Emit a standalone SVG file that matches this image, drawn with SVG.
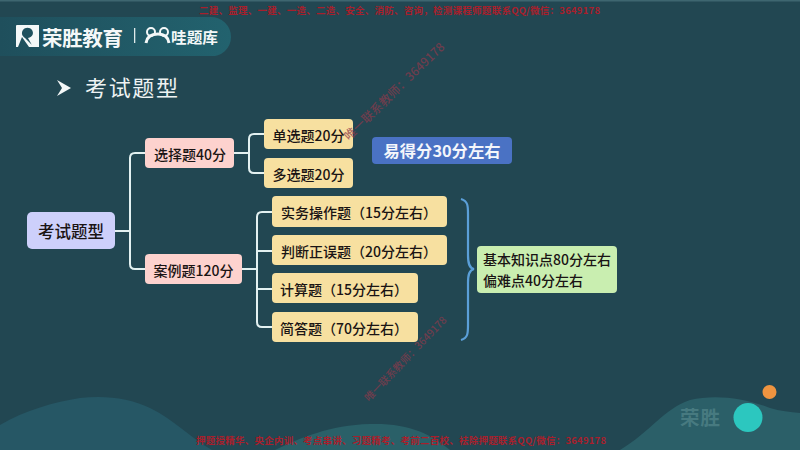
<svg xmlns="http://www.w3.org/2000/svg" width="800" height="450" viewBox="0 0 800 450">
<defs>
<style>
text{font-family:"Noto Sans CJK SC","Liberation Sans",sans-serif}
.n{stroke:none}
.t{font-size:14px;font-weight:500;fill:#1a1414;text-anchor:middle;dominant-baseline:central}
.c{fill:none;stroke:#e3f1f1;stroke-width:2}
.wm{font-size:9.5px;fill:#a81f2c;font-weight:700}
.dg{fill:#8e3a4c;font-weight:500;opacity:.7}
.y{fill:#f7e0a0}.p{fill:#fdd2ce}
</style>
<linearGradient id="h" x1="0" x2="1"><stop offset="0" stop-color="#1f4f5c"/><stop offset="1" stop-color="#22626e"/></linearGradient>
</defs>
<rect width="800" height="450" fill="#224752"/>
<rect width="800" height="1.500" fill="#3e6670"/>
<g id="background-waves">
<path d="M0 425C25 410 55 402 80 398C105 395 130 398 150 408C175 420 190 438 212 450H0Z" fill="#265765"/>
<path d="M275 450C300 438 330 425 370 424C410 423 430 434 450 450Z" fill="#2a6068"/>
<path d="M620 450C650 432 665 408 690 400C715 394 745 398 770 408C780 411 790 412 800 413V450Z" fill="#2b5f68"/>
</g>
<g id="logo-bar">
<path d="M0 17H210A20 20 0 0 1 231 37A19 19 0 0 1 210 56H0Z" fill="url(#h)"/>
<path d="M16 26Q16 25 17 25H39V47H33L28 38C33 37 34 33 32 30C30 27 25 27 23 30C21 33 22 36 25 38L34 47H29L22 37L18 47H16Z" fill="#f4f8f8"/>
<text x="42" y="45.500" font-size="20.500" font-weight="700" fill="#f4f8f8" textLength="81">荣胜教育</text>
<rect x="134" y="28" width="1.300" height="15" fill="#dfeaea"/>
<path d="M146 43C147 36 152 34 158 34C164 34 168 36 169 43" fill="none" stroke="#f4f8f8" stroke-width="3"/>
<circle cx="151" cy="32" r="4" fill="none" stroke="#f4f8f8" stroke-width="2"/>
<circle cx="164" cy="32" r="4" fill="none" stroke="#f4f8f8" stroke-width="2"/>
<text x="171" y="43" font-size="15" font-weight="700" fill="#f4f8f8" textLength="47" lengthAdjust="spacingAndGlyphs">哇题库</text>
</g>
<g id="title">
<path d="M57 80L71 88L57 96L62 88Z" fill="#f4f8f8"/>
<text x="85" y="96" font-size="22" fill="#eef3f3" textLength="93">考试题型</text>
</g>
<g id="connectors">
<path class="c" d="M115 231H130"/>
<path class="c" d="M145 153H135Q130 153 130 158V264Q130 269 135 269H145"/>
<path class="c" d="M234 153H249"/>
<path class="c" d="M264 134H254Q249 134 249 139V168Q249 173 254 173H264"/>
<path class="c" d="M242 269H257"/>
<path class="c" d="M272 212H262Q257 212 257 217V322Q257 327 262 327H272"/>
<path class="c" d="M257 251H272M257 289H272"/>
<path d="M461 199C468 201 468 206 468 214V255C468 263 469 268 474 269C469 270 468 275 468 283V325C468 333 468 338 461 340" fill="none" stroke="#5b9fd8" stroke-width="2.200"/>
</g>
<g id="root"><rect class="n" x="27" y="212" width="88" height="37" rx="5" fill="#cdd0fb"/><text class="t" x="71" y="231" style="font-size:16.500px">考试题型</text></g>
<g id="choice"><rect class="n p" x="145" y="138" width="89" height="30" rx="4"/><text class="t" x="190" y="154">选择题40分</text></g>
<g id="case"><rect class="n p" x="145" y="254" width="97" height="30" rx="4"/><text class="t" x="193.500" y="270">案例题120分</text></g>
<g id="single"><rect class="n y" x="264" y="119" width="89" height="30" rx="4"/><text class="t" x="308.500" y="135">单选题20分</text></g>
<g id="multi"><rect class="n y" x="264" y="158" width="89" height="30" rx="4"/><text class="t" x="308.500" y="174">多选题20分</text></g>
<g id="q1"><rect class="n y" x="272" y="196" width="175" height="31" rx="4"/><text class="t" x="359" y="212">实务操作题（15分左右）</text></g>
<g id="q2"><rect class="n y" x="272" y="235" width="175" height="30" rx="4"/><text class="t" x="359" y="251">判断正误题（20分左右）</text></g>
<g id="q3"><rect class="n y" x="272" y="273" width="146" height="30" rx="4"/><text class="t" x="344" y="289">计算题（15分左右）</text></g>
<g id="q4"><rect class="n y" x="272" y="312" width="146" height="30" rx="4"/><text class="t" x="344" y="328">简答题（70分左右）</text></g>
<g id="easy"><rect class="n" x="372" y="137" width="140" height="27" rx="4" fill="#4a72c4"/><text class="t" x="442" y="150" style="font-size:16.300px;font-weight:700;fill:#f4f6fb">易得分30分左右</text></g>
<g id="basic"><rect class="n" x="477" y="246" width="140" height="47" rx="4" fill="#c9eeb0"/>
<text class="t" x="483" y="259" style="text-anchor:start">基本知识点80分左右</text><text class="t" x="483" y="280" style="text-anchor:start">偏难点40分左右</text></g>
<g id="decor">
<circle cx="769.500" cy="392" r="7" fill="#ee9440"/>
<circle cx="748" cy="417.500" r="14.500" fill="#2cc7bf"/>
<text x="680" y="425" font-size="19.500" font-weight="700" fill="#477a80" textLength="40">荣胜</text>
</g>
<g id="watermarks">
<text class="wm" x="199" y="14" textLength="401">二建、监理、一建、一造、二造、安全、消防、咨询，检测课程师题联系QQ/微信：3649178</text>
<text class="wm" x="196" y="444" textLength="410">押题授精华、央企内训、考点串讲、习题精考、考前二百校、袪除押题联系QQ/微信：3649178</text>
<text class="dg" font-size="12" transform="translate(349 141) rotate(-44)" textLength="134">唯一联系教师：3649178</text>
<text class="dg" font-size="10.400" transform="translate(369 402) rotate(-46)" textLength="113">唯一联系教师：3649178</text>
</g>
</svg>
